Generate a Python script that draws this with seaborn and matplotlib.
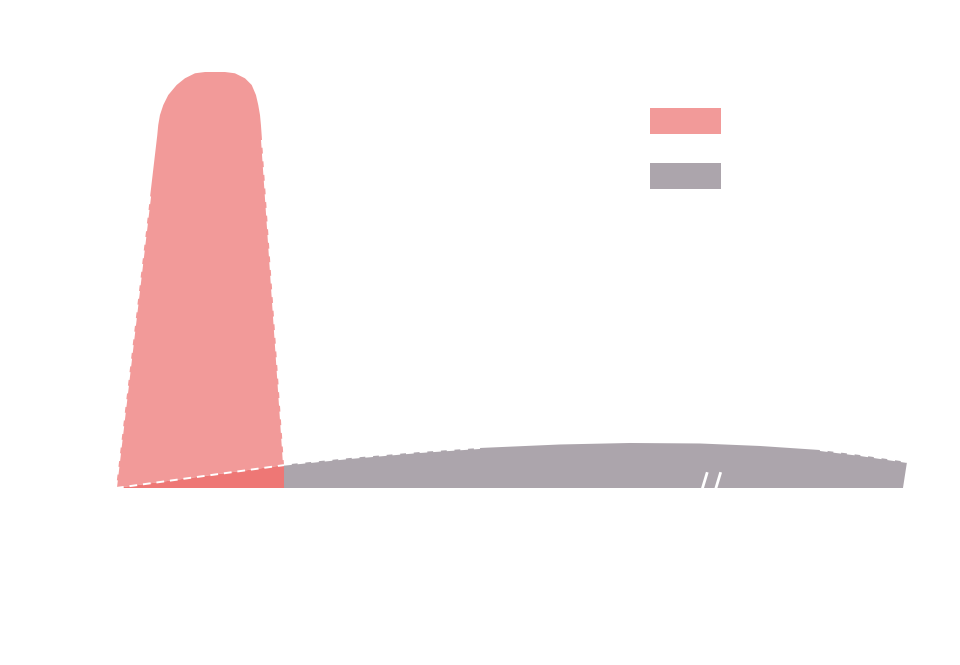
import numpy as np
import pandas as pd
import seaborn as sns
import matplotlib.pyplot as plt
from matplotlib.patches import Rectangle

# ---- data (chart units: x 0..100 across, y 0..100 peak height) ----
peak_x = [0.00, 5.23, 5.35, 5.57, 5.99, 6.62, 7.68, 8.73, 10.00, 11.27, 12.53,
          13.80, 15.06, 16.33, 17.18, 17.72, 18.01, 18.23, 18.35, 18.44, 21.27]
peak_y = [0.0, 84.86, 87.26, 89.66, 92.07, 94.47, 96.88, 98.49, 99.69, 100.0, 100.0,
          100.0, 99.69, 98.49, 96.88, 94.47, 92.07, 89.66, 87.26, 84.86, 5.5]

wedge_x = [0.00, 21.27, 21.27]
wedge_y = [0.0, 5.5, 0.0]

tail_x = [21.27, 29.62, 38.48, 46.08, 56.20, 65.06, 73.92, 81.52, 89.11, 94.18, 100.13, 99.62, 21.27]
tail_y = [5.6, 7.21, 8.65, 9.62, 10.46, 10.82, 10.70, 10.10, 9.13, 7.93, 6.25, 0.0, 0.0]

series_names = ["Series A", "Series B"]
series_colors = ["#F29A99", "#ACA5AC"]
wedge_color = "#EE7775"

sns.set_theme(style="white")
fig = plt.figure(figsize=(9.6, 6.65), dpi=100)
ax = fig.add_axes([0, 0, 1, 1])
ax.set_xlim(-14.68, 106.84)
ax.set_ylim(-42.55, 117.31)
ax.axis("off")

# fills
ax.fill(peak_x, peak_y, color=series_colors[0], lw=0, zorder=2)
ax.fill(tail_x, tail_y, color=series_colors[1], lw=0, zorder=2)
ax.fill(wedge_x, wedge_y, color=wedge_color, lw=0, zorder=3)

def seg(p0, p1, t0, t1):
    return ([p0[0] + t0 * (p1[0] - p0[0]), p0[0] + t1 * (p1[0] - p0[0])],
            [p0[1] + t0 * (p1[1] - p0[1]), p0[1] + t1 * (p1[1] - p0[1])])

dash_kw = dict(color="white", lw=1.4, dashes=(4, 3), zorder=4)
# left edge of peak (lower part)
lx, ly = seg((peak_x[0], peak_y[0]), (peak_x[1], peak_y[1]), 0.0, 0.84)
sns.lineplot(x=lx, y=ly, ax=ax, sort=False, **dash_kw)
# right edge of peak (lower part)
rx, ry = seg((peak_x[-2], peak_y[-2]), (peak_x[-1], peak_y[-1]), 0.015, 1.0)
sns.lineplot(x=rx, y=ry, ax=ax, sort=False, **dash_kw)
# hypotenuse of wedge
sns.lineplot(x=wedge_x[:2], y=wedge_y[:2], ax=ax, sort=False, **dash_kw)
# tail top dashed start and end
sns.lineplot(x=tail_x[0:4], y=tail_y[0:4], ax=ax, sort=False, **dash_kw)
sns.lineplot(x=tail_x[8:11], y=tail_y[8:11], ax=ax, sort=False, **dash_kw)

# axis break marks
for bx in (74.2, 75.9):
    ax.plot([bx, bx + 0.65], [-0.3, 3.8], color="white", lw=2, zorder=5,
            solid_capstyle="butt")

# legend swatches
for i, c in enumerate(series_colors):
    top = 108 + i * 55
    fig.add_artist(Rectangle((650 / 960, 1 - (top + 26) / 665), 71 / 960, 26 / 665,
                             transform=fig.transFigure, color=c, lw=0))

fig.savefig("out.png", dpi=100)
